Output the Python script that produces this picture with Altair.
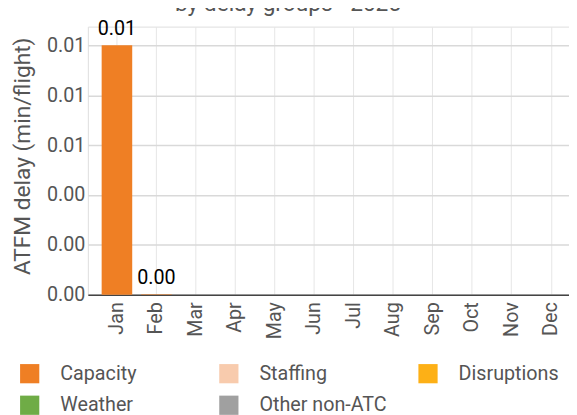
import altair as alt
import pandas as pd

months = ["Jan", "Feb", "Mar", "Apr", "May", "Jun", "Jul", "Aug", "Sep", "Oct", "Nov", "Dec"]
groups = ["Capacity", "Staffing", "Disruptions", "Weather", "Other non-ATC"]
colors = ["#EF7F24", "#F8CBAD", "#FDB016", "#6FAC46", "#A0A0A0"]

bar_months = ["Jan", "Feb"]
bar_groups = ["Capacity", "Capacity"]
bar_values = [0.0100, 0.00002]

y_ticks = [0.0, 0.002, 0.004, 0.006, 0.008, 0.010]
y_max = 0.01075
title_text = ["by delay groups - 2025"]
y_title = "ATFM delay (min/flight)"

df = pd.DataFrame({"month": bar_months, "group": bar_groups, "value": bar_values})
df_title = pd.DataFrame({"t": title_text})

FONT = "Roboto"
LABEL = "#555555"

x_enc = alt.X(
    "month:N",
    sort=months,
    scale=alt.Scale(domain=months, paddingInner=0.226, paddingOuter=0.2055, align=0.85),
    axis=alt.Axis(
        title=None, labelAngle=-90, labelAlign="right", labelBaseline="middle",
        labelFontSize=20, labelColor=LABEL, labelPadding=7, ticks=False,
        domainColor="#444444", domainWidth=1.5, grid=True, gridColor="#e6e6e6",
        gridWidth=1, bandPosition=0.5, labelFont=FONT,
    ),
)

y_enc = alt.Y(
    "sum(value):Q",
    stack="zero",
    scale=alt.Scale(domain=[0, y_max], nice=False),
    axis=alt.Axis(
        title=y_title, values=y_ticks, format=".2f", labelFontSize=20,
        labelColor=LABEL, labelPadding=3, ticks=False, domain=False,
        gridColor="#d9d9d9", gridWidth=1.5, titleFontSize=23, titleColor=LABEL,
        titleFontWeight="normal", titleAngle=-90, titleX=-66, titleY=131,
        titleAlign="center", titleBaseline="middle", labelFont=FONT, titleFont=FONT,
    ),
)

bars = alt.Chart(df).mark_bar().encode(
    x=x_enc,
    y=y_enc,
    color=alt.Color(
        "group:N",
        scale=alt.Scale(domain=groups, range=colors),
        legend=alt.Legend(
            title=None, orient="none", legendX=-69, legendY=342, columns=3,
            direction="horizontal", values=groups,
            symbolType="square", symbolSize=380, symbolStrokeWidth=0,
            labelFontSize=20, labelColor=LABEL, labelFont=FONT, labelOffset=21,
            rowPadding=12, columnPadding=31, gridAlign="all", padding=0,
            symbolOpacity=1,
        ),
    ),
)

labels = alt.Chart(df).transform_aggregate(
    total="sum(value)", groupby=["month"]
).mark_text(dy=-10, baseline="alphabetic", fontSize=20, color="#000000", font=FONT).encode(
    x=alt.X("month:N", sort=months, scale=alt.Scale(domain=months)),
    y=alt.Y("total:Q"),
    text=alt.Text("total:Q", format=".2f"),
)

title = alt.Chart(df_title).mark_text(
    fontSize=23, color=LABEL, font=FONT, baseline="alphabetic", align="center"
).encode(x=alt.value(203), y=alt.value(-16), text="t:N")

chart = alt.layer(bars, labels, title).properties(
    width=488, height=272,
    autosize=alt.AutoSizeParams(type="none"),
    padding={"left": 81, "top": 16, "right": 0, "bottom": 119},
).configure_view(stroke=None).configure(font=FONT)

chart.save("out.html", embed_options={"renderer": "svg", "actions": False})
